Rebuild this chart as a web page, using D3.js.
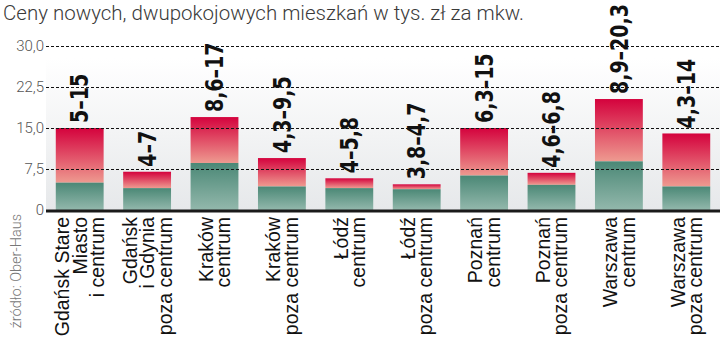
<!DOCTYPE html>
<html>
<head>
<meta charset="utf-8">
<script src="https://cdn.jsdelivr.net/npm/d3@7"></script>
<style>
  body { margin: 0; background: #fff; }
  svg { display: block; }
  .title { font-family: Roboto, "Liberation Sans", sans-serif; font-weight: 300; font-size: 20.5px; fill: #3a3a3a; }
  .axis text { font-family: Roboto, "Liberation Sans", sans-serif; font-weight: 300; font-size: 15px; fill: #555; }
  .val { font-family: "DejaVu Sans Condensed", sans-serif; font-weight: bold; font-size: 24px; fill: #111; }
  .cat { font-family: "Liberation Sans", Arial, sans-serif; font-size: 19.5px; fill: #111; }
  .src { font-family: Roboto, "Liberation Sans", sans-serif; font-weight: 300; font-size: 14.5px; fill: #777; }
</style>
</head>
<body>
<div id="chart"></div>
<script>
var width = 720, height = 344;

// data (tys. zl / m2)
var categories = [
  ["Gdańsk Stare", "Miasto", "i centrum"],
  ["Gdańsk", "i Gdynia", "poza centrum"],
  ["Kraków", "centrum"],
  ["Kraków", "poza centrum"],
  ["Łódź", "centrum"],
  ["Łódź", "poza centrum"],
  ["Poznań", "centrum"],
  ["Poznań", "poza centrum"],
  ["Warszawa", "centrum"],
  ["Warszawa", "poza centrum"]
];
var minPrice = [5, 4, 8.6, 4.3, 4, 3.8, 6.3, 4.6, 8.9, 4.3];
var maxPrice = [15, 7, 17, 9.5, 5.8, 4.7, 15, 6.8, 20.3, 14];
var tickValues = [0, 7.5, 15, 22.5, 30];
var tickLabels = ["0", "7,5", "15,0", "22,5", "30,0"];
var title = "Ceny nowych, dwupokojowych mieszkań w tys. zł za mkw.";
var source = "źródło: Ober-Haus";

var pl = d3.formatLocale({decimal: ",", thousands: " ", grouping: [3], currency: ["", " zł"]});
var fmt = pl.format(".3~g");

var rows = categories.map(function(c, i) {
  return {i: i, lines: c, lo: minPrice[i], hi: maxPrice[i]};
});

var svg = d3.select("#chart").append("svg")
    .attr("width", width)
    .attr("height", height);

var defs = svg.append("defs");
var bg = defs.append("linearGradient").attr("id", "bg")
    .attr("x1", 0).attr("y1", 0).attr("x2", 0).attr("y2", 1);
bg.append("stop").attr("offset", 0).attr("stop-color", "#ffffff");
bg.append("stop").attr("offset", 1).attr("stop-color", "#e6e8ea");

var red = defs.append("linearGradient").attr("id", "red")
    .attr("x1", 0).attr("y1", 0).attr("x2", 0).attr("y2", 1);
red.append("stop").attr("offset", 0).attr("stop-color", "#d4023d");
red.append("stop").attr("offset", 1).attr("stop-color", "#ee9a90");

var green = defs.append("linearGradient").attr("id", "green")
    .attr("x1", 0).attr("y1", 0).attr("x2", 0).attr("y2", 1);
green.append("stop").attr("offset", 0).attr("stop-color", "#4b8876");
green.append("stop").attr("offset", 1).attr("stop-color", "#93b8ac");

var x = d3.scaleBand()
    .domain(rows.map(function(d) { return d.i; }))
    .range([46, 720])
    .paddingInner(0.29)
    .paddingOuter(0.145);

var y = d3.scaleLinear()
    .domain([0, 30])
    .range([210, 46]);

svg.append("text")
    .attr("class", "title")
    .attr("x", 3)
    .attr("y", 20)
    .text(title);

// soft panel behind bars
svg.append("rect")
    .attr("x", 46).attr("y", 58)
    .attr("width", width - 46).attr("height", y(0) - 58)
    .attr("fill", "url(#bg)");

var bars = svg.append("g").attr("class", "bars");

bars.selectAll("rect.hi")
    .data(rows)
  .enter().append("rect")
    .attr("class", "hi")
    .attr("x", function(d) { return x(d.i); })
    .attr("width", x.bandwidth())
    .attr("y", function(d) { return y(d.hi); })
    .attr("height", function(d) { return y(d.lo) - y(d.hi); })
    .attr("fill", "url(#red)");

bars.selectAll("rect.lo")
    .data(rows)
  .enter().append("rect")
    .attr("class", "lo")
    .attr("x", function(d) { return x(d.i); })
    .attr("width", x.bandwidth())
    .attr("y", function(d) { return y(d.lo); })
    .attr("height", function(d) { return y(0) - y(d.lo); })
    .attr("fill", "url(#green)");

// y axis with dashed grid drawn over the bars
var yAxis = d3.axisLeft(y)
    .tickValues(tickValues)
    .tickSize(-(width - 46))
    .tickPadding(3)
    .tickFormat(function(d, i) { return tickLabels[i]; });

var ag = svg.append("g")
    .attr("class", "axis")
    .attr("transform", "translate(46,0)")
    .call(yAxis);
ag.select(".domain").remove();
ag.selectAll(".tick line")
    .attr("stroke", "#111")
    .attr("stroke-dasharray", "3,2")
    .attr("stroke-width", 1);
ag.selectAll(".tick text").attr("x", -2);
ag.selectAll(".tick").filter(function(d) { return d === 0; }).select("line").remove();

// baseline
svg.append("line")
    .attr("x1", 46).attr("x2", width)
    .attr("y1", y(0) + 1).attr("y2", y(0) + 1)
    .attr("stroke", "#1a1a1a")
    .attr("stroke-width", 3);

// range labels over bars (squeezed a bit to mimic a condensed face)
svg.append("g").selectAll("text")
    .data(rows)
  .enter().append("text")
    .attr("class", "val")
    .attr("transform", function(d) {
      return "translate(" + (x(d.i) + x.bandwidth() / 2) + "," + (y(d.hi) - 5) + ") rotate(-90) scale(0.88,1)";
    })
    .attr("dy", "0.36em")
    .text(function(d) { return fmt(d.lo) + "–" + fmt(d.hi); });

// category labels
var lh = 17.5;
var cat = svg.append("g").selectAll("text")
    .data(rows)
  .enter().append("text")
    .attr("class", "cat")
    .attr("text-anchor", "end")
    .attr("transform", function(d) {
      return "translate(" + (x(d.i) + x.bandwidth() / 2) + ",217) rotate(-90)";
    });
cat.selectAll("tspan")
    .data(function(d) {
      return d.lines.map(function(t, k) { return {t: t, k: k, n: d.lines.length}; });
    })
  .enter().append("tspan")
    .attr("x", 0)
    .attr("y", function(l) { return (l.k - (l.n - 1) / 2) * lh; })
    .attr("dy", "0.36em")
    .text(function(l) { return l.t; });

svg.append("text")
    .attr("class", "src")
    .attr("text-anchor", "end")
    .attr("transform", "translate(21,214) rotate(-90)")
    .text(source);
</script>
</body>
</html>
